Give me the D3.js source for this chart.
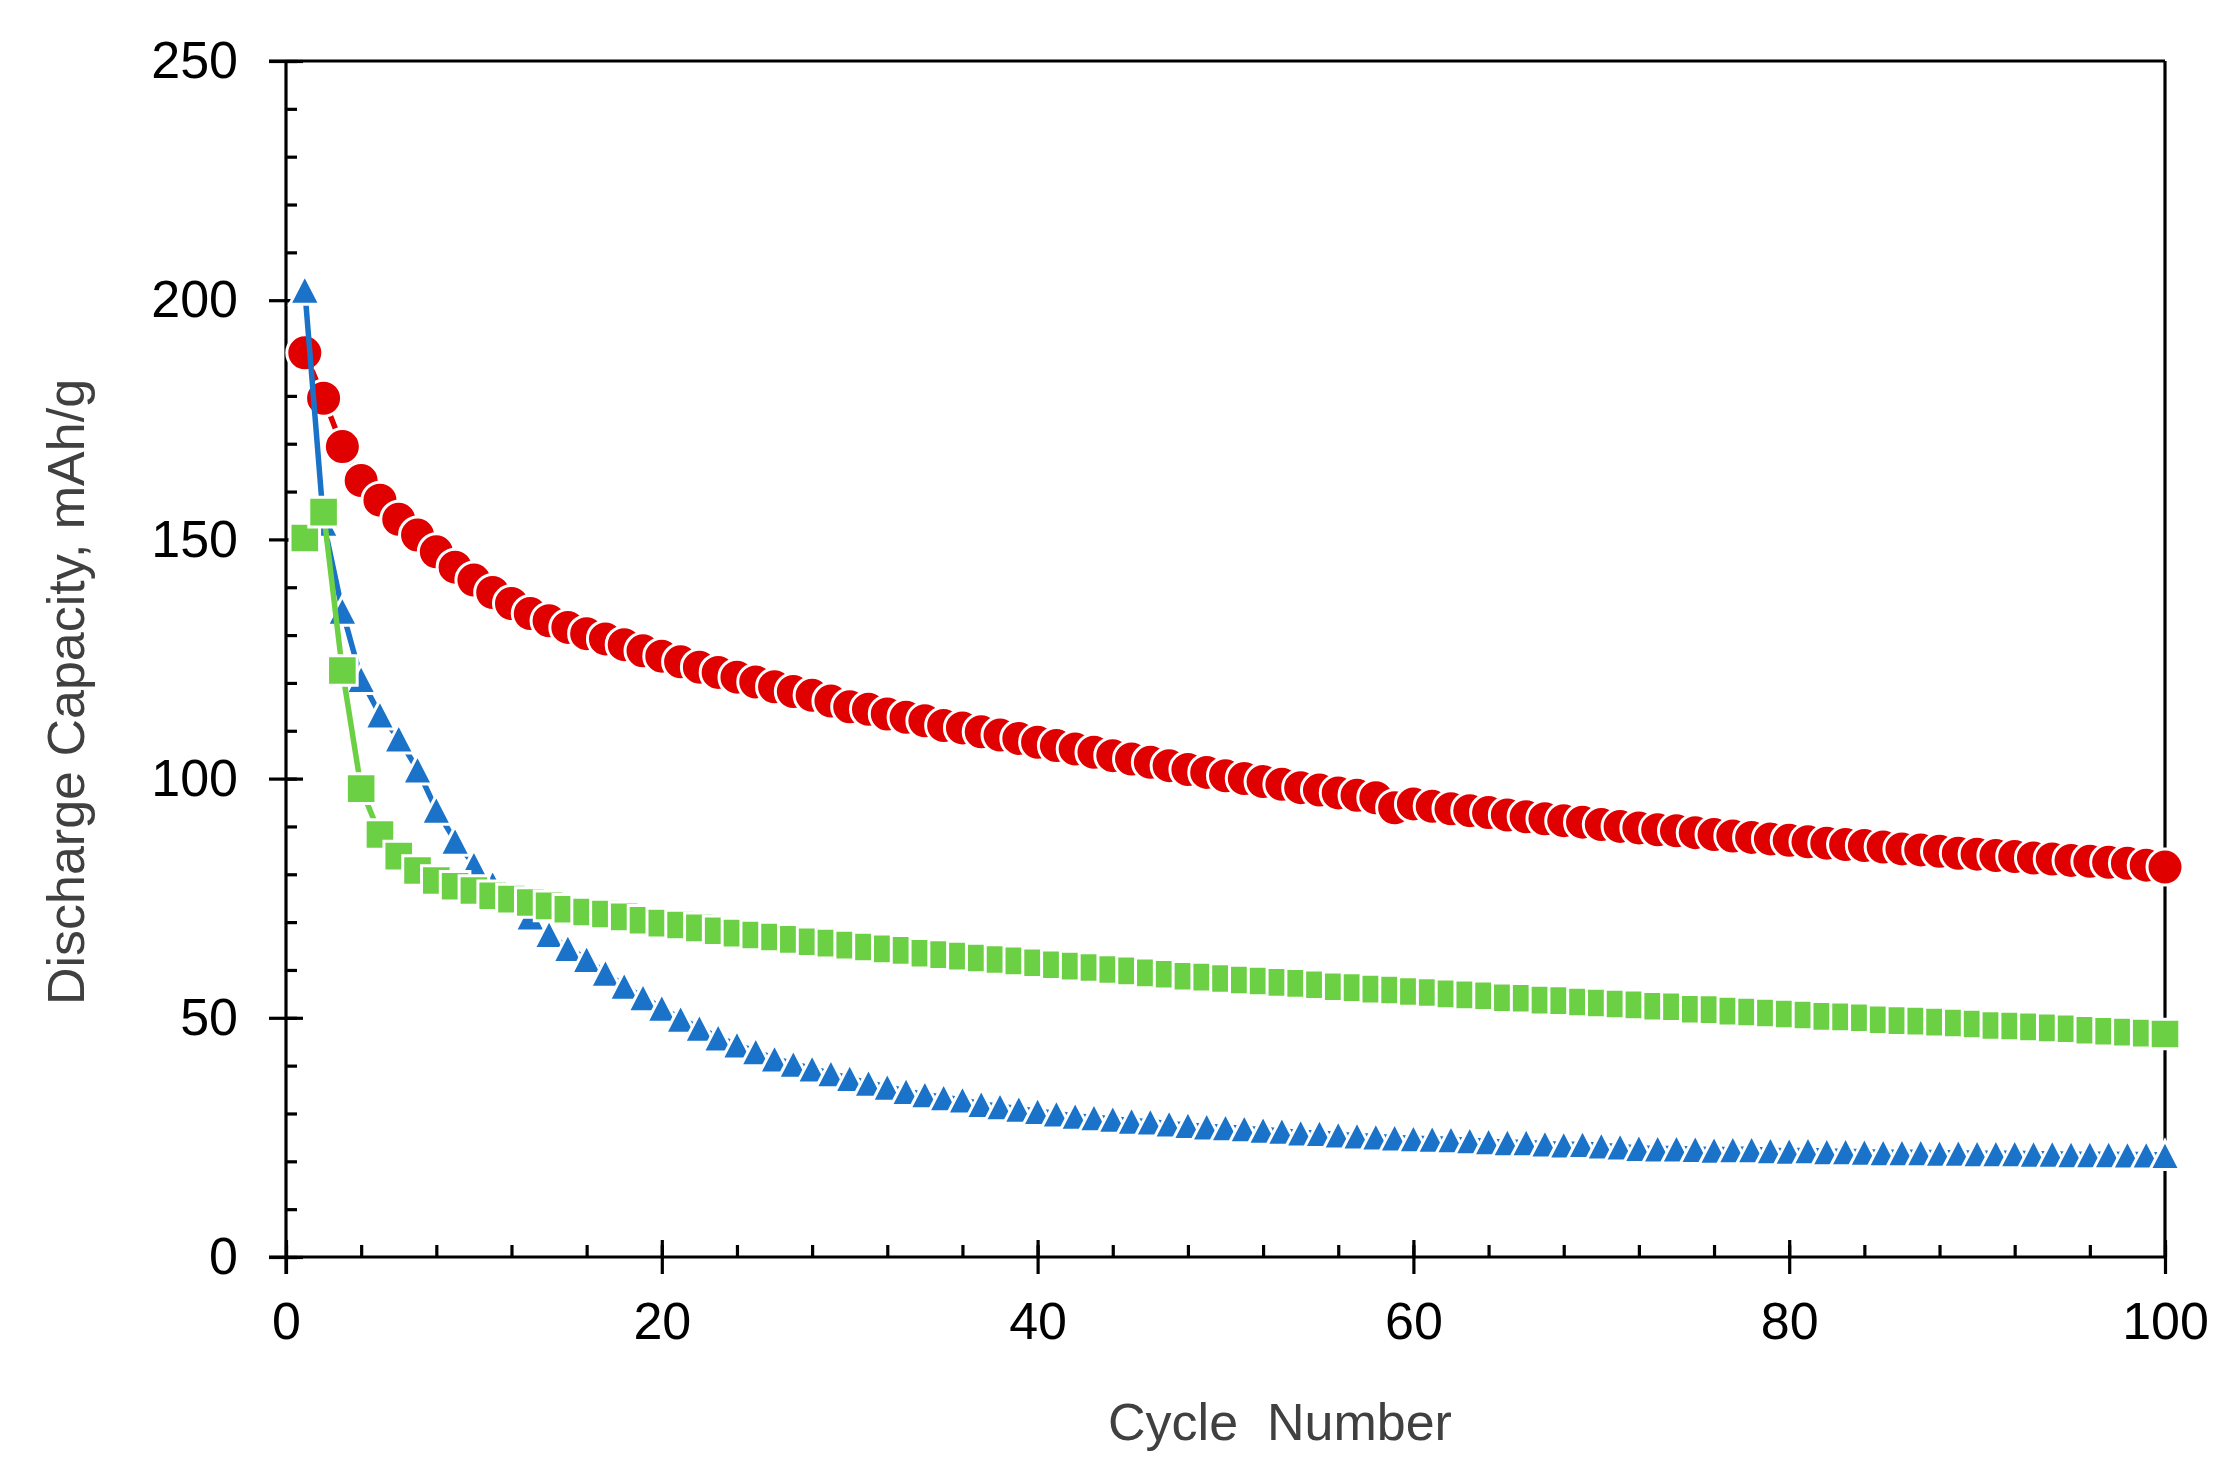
<!DOCTYPE html>
<html>
<head>
<meta charset="utf-8">
<script src="https://cdn.jsdelivr.net/npm/d3@7"></script>
<style>
  html, body { margin: 0; padding: 0; background: #fff; }
  svg { display: block; font-family: "Liberation Sans", Arial, sans-serif; }
</style>
</head>
<body>
<svg id="chart" width="2229" height="1466"></svg>
<script>
// cycle numbers on the x axis
const cycles = d3.range(1, 101);

// discharge capacity (mAh/g), one value per cycle
const redCapacity = [
  189.0, 179.5, 169.4, 162.3, 158.2, 154.2, 150.9, 147.4, 144.2, 141.5,
  138.9, 136.6, 134.5, 133.0, 131.6, 130.3, 129.2, 128.0, 126.7, 125.6,
  124.4, 123.3, 122.2, 121.2, 120.2, 119.2, 118.2, 117.4, 116.2, 115.0,
  114.5, 113.5, 112.8, 112.1, 111.1, 110.6, 109.8, 109.1, 108.4, 107.6,
  106.9, 106.2, 105.5, 104.8, 104.1, 103.4, 102.7, 101.9, 101.3, 100.6,
  100.0, 99.4, 98.8, 98.1, 97.6, 97.0, 96.5, 96.0, 93.9, 94.7,
  94.2, 93.7, 93.3, 92.9, 92.4, 92.0, 91.6, 91.2, 90.9, 90.4,
  90.0, 89.7, 89.3, 89.1, 88.7, 88.3, 88.0, 87.7, 87.4, 87.1,
  86.8, 86.5, 86.2, 86.0, 85.7, 85.3, 85.1, 84.8, 84.4, 84.2,
  83.9, 83.7, 83.4, 83.2, 82.9, 82.7, 82.5, 82.3, 81.9, 81.5
];

const blueCapacity = [
  202.2, 153.5, 135.1, 120.8, 113.4, 108.4, 101.9, 93.5, 87.0, 82.1,
  78.0, 74.6, 71.2, 67.5, 64.6, 62.3, 59.4, 56.7, 54.3, 52.1,
  49.8, 47.9, 45.9, 44.4, 43.0, 41.5, 40.4, 39.4, 38.4, 37.4,
  36.4, 35.6, 34.7, 34.0, 33.4, 32.9, 32.0, 31.5, 31.0, 30.5,
  30.0, 29.5, 29.2, 28.9, 28.5, 28.3, 27.9, 27.6, 27.3, 27.1,
  26.9, 26.6, 26.4, 26.0, 25.9, 25.6, 25.4, 25.2, 25.0, 24.8,
  24.7, 24.6, 24.4, 24.2, 24.0, 24.0, 23.7, 23.5, 23.6, 23.3,
  23.1, 22.8, 22.7, 22.7, 22.6, 22.4, 22.5, 22.5, 22.3, 22.2,
  22.3, 22.1, 22.1, 22.0, 21.9, 21.9, 21.9, 21.8, 21.8, 21.7,
  21.7, 21.7, 21.6, 21.6, 21.5, 21.5, 21.5, 21.4, 21.4, 21.3
];

const greenCapacity = [
  150.3, 155.7, 122.6, 97.9, 88.3, 83.8, 80.8, 78.7, 77.5, 76.6,
  75.5, 74.8, 74.1, 73.4, 72.7, 72.1, 71.7, 71.1, 70.4, 69.8,
  69.4, 68.8, 68.2, 67.7, 67.3, 66.9, 66.4, 65.9, 65.6, 65.2,
  64.8, 64.4, 64.1, 63.5, 63.2, 62.9, 62.5, 62.2, 61.9, 61.5,
  61.1, 60.8, 60.5, 60.1, 59.8, 59.4, 59.1, 58.7, 58.5, 58.2,
  57.9, 57.7, 57.4, 57.2, 56.9, 56.5, 56.3, 56.0, 55.8, 55.5,
  55.3, 55.0, 54.8, 54.6, 54.2, 54.1, 53.7, 53.6, 53.3, 53.1,
  52.9, 52.7, 52.4, 52.3, 51.8, 51.7, 51.4, 51.2, 51.0, 50.8,
  50.6, 50.3, 50.2, 50.0, 49.6, 49.4, 49.3, 49.1, 48.9, 48.7,
  48.4, 48.3, 48.1, 47.9, 47.7, 47.4, 47.2, 47.0, 46.8, 46.6
];

// axis ticks
const xMajorTicks = [0, 20, 40, 60, 80, 100];
const xMinorTicks = d3.range(0, 101, 4);
const yMajorTicks = [0, 50, 100, 150, 200, 250];
const yMinorTicks = d3.range(0, 251, 10);

const xTitle = "Cycle  Number";
const yTitle = "Discharge Capacity, mAh/g";

// ---- layout ----
const svg = d3.select("#chart");
const plotLeft = 286, plotRight = 2165, plotTop = 61, plotBottom = 1257;

const x = d3.scaleLinear().domain([0, 100]).range([plotLeft, plotRight]);
const y = d3.scaleLinear().domain([0, 250]).range([plotBottom, plotTop]);

const axisStroke = 3.2;
const fontSize = 52;

// series in drawing order (green ends up on top)
const series = [
  { values: redCapacity, color: "#E00000", shape: "circle" },
  { values: blueCapacity, color: "#1A73C8", shape: "triangle" },
  { values: greenCapacity, color: "#6CD044", shape: "square" }
];

// frame: top and right border
svg.append("line")
  .attr("x1", plotLeft - 17).attr("x2", plotRight)
  .attr("y1", plotTop).attr("y2", plotTop)
  .attr("stroke", "#000").attr("stroke-width", axisStroke);
svg.append("line")
  .attr("x1", plotRight).attr("x2", plotRight)
  .attr("y1", plotTop).attr("y2", plotBottom)
  .attr("stroke", "#000").attr("stroke-width", axisStroke);

function styleAxis(g) {
  g.select(".domain").remove();
  g.selectAll(".tick line").attr("stroke", "#000").attr("stroke-width", axisStroke);
  g.selectAll(".tick text")
    .attr("fill", "#000")
    .style("font-size", fontSize + "px")
    .style("font-family", "'Liberation Sans', Arial, sans-serif");
}

// x axis: minor ticks pointing inward, major ticks crossing the line
svg.append("g")
  .attr("transform", `translate(0,${plotBottom})`)
  .call(d3.axisTop(x).tickValues(xMinorTicks).tickSize(12).tickFormat(""))
  .call(styleAxis);
svg.append("g")
  .attr("transform", `translate(0,${plotBottom})`)
  .call(d3.axisTop(x).tickValues(xMajorTicks).tickSize(17).tickFormat(""))
  .call(styleAxis);
svg.append("g")
  .attr("transform", `translate(0,${plotBottom})`)
  .call(d3.axisBottom(x).tickValues(xMajorTicks).tickSize(17).tickPadding(28).tickFormat(d3.format("d")))
  .call(styleAxis);

// y axis
svg.append("g")
  .attr("transform", `translate(${plotLeft},0)`)
  .call(d3.axisRight(y).tickValues(yMinorTicks).tickSize(11).tickFormat(""))
  .call(styleAxis);
svg.append("g")
  .attr("transform", `translate(${plotLeft},0)`)
  .call(d3.axisRight(y).tickValues(yMajorTicks).tickSize(17).tickFormat(""))
  .call(styleAxis);
svg.append("g")
  .attr("transform", `translate(${plotLeft},0)`)
  .call(d3.axisLeft(y).tickValues(yMajorTicks).tickSize(17).tickPadding(31).tickFormat(d3.format("d")))
  .call(styleAxis);

// axis lines
svg.append("line")
  .attr("x1", plotLeft - 17).attr("x2", plotRight)
  .attr("y1", plotBottom).attr("y2", plotBottom)
  .attr("stroke", "#000").attr("stroke-width", axisStroke);
svg.append("line")
  .attr("x1", plotLeft).attr("x2", plotLeft)
  .attr("y1", plotTop).attr("y2", plotBottom + 17)
  .attr("stroke", "#000").attr("stroke-width", axisStroke);

// axis titles
svg.append("text")
  .attr("x", 1280).attr("y", 1440)
  .attr("text-anchor", "middle")
  .attr("fill", "#404040")
  .style("font-size", fontSize + "px")
  .style("white-space", "pre")
  .text(xTitle);

svg.append("text")
  .attr("transform", `translate(84,692) rotate(-90)`)
  .attr("text-anchor", "middle")
  .attr("fill", "#404040")
  .style("font-size", fontSize + "px")
  .text(yTitle);

// markers
const markerStroke = 3;
function markerPath(shape) {
  if (shape === "circle") return d3.symbol(d3.symbolCircle, Math.PI * 18 * 18)();
  if (shape === "square") return "M-14.8,-14.8H14.8V14.8H-14.8Z";
  // triangle centred on its bounding box
  return "M0,-14.5L15,14.5H-15Z";
}

const line = d3.line()
  .x((d, i) => x(cycles[i]))
  .y(d => y(d));

series.forEach(s => {
  const g = svg.append("g");
  g.append("path")
    .attr("d", line(s.values))
    .attr("fill", "none")
    .attr("stroke", s.color)
    .attr("stroke-width", 5.5)
    .attr("stroke-linejoin", "round");

  g.selectAll("path.marker")
    .data(s.values)
    .join("path")
    .attr("class", "marker")
    .attr("d", markerPath(s.shape))
    .attr("transform", (d, i) => `translate(${x(cycles[i])},${y(d)})`)
    .attr("fill", s.color)
    .attr("stroke", "#fff")
    .attr("stroke-width", markerStroke);
});
</script>
</body>
</html>
